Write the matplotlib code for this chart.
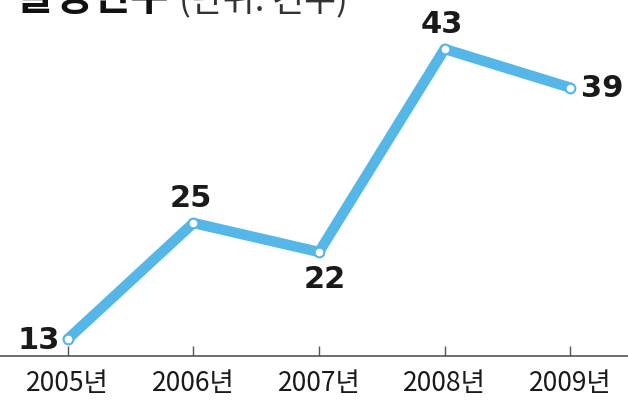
import numpy as np
import matplotlib
matplotlib.use("Agg")
import matplotlib.pyplot as plt

plt.rcParams['font.family'] = ['Noto Sans CJK KR', 'DejaVu Sans']

years = [2005, 2006, 2007, 2008, 2009]
counts = [13, 25, 22, 43, 39]
tick_labels = ["2005년", "2006년", "2007년", "2008년", "2009년"]
# where each value label sits relative to its point
label_pos = ["left", "above", "below", "above", "right"]

blue = "#55b6e8"

fig = plt.figure(figsize=(6.28, 4.10), dpi=100)
ax = fig.add_axes([0, 0, 1, 1])

ax.plot(years, counts, color=blue, lw=7.5, solid_capstyle='round', solid_joinstyle='round', zorder=2)
ax.plot(years, counts, linestyle='None', marker='o', ms=7, mfc='white', mec=blue, mew=1.5, zorder=3)

offsets = {"left": (-6, 0, 'right', 'center'),
           "right": (8, 0, 'left', 'center'),
           "above": (-2, 8, 'center', 'bottom'),
           "below": (4, -9, 'center', 'top')}
for x, y, p in zip(years, counts, label_pos):
    dx, dy, ha, va = offsets[p]
    ax.annotate(str(y), (x, y), xytext=(dx, dy), textcoords='offset points',
                ha=ha, va=va, fontsize=22, fontweight='bold', color='#1a1a1a',
                family='DejaVu Sans')

ax.set_xlim(2004.46, 2009.46)
ax.set_ylim(5.76, 48.17)

for s in ['top', 'left', 'right']:
    ax.spines[s].set_visible(False)
ax.spines['bottom'].set_position(('data', 11.24))
ax.spines['bottom'].set_color('#555555')
ax.spines['bottom'].set_linewidth(1.2)
ax.set_yticks([])
ax.set_xticks(years)
ax.set_xticklabels(tick_labels)
ax.tick_params(axis='x', direction='in', length=7, width=1, color='#555555',
               labelsize=19, pad=9, labelcolor='#1a1a1a')

# title cut off at the top of the image
fig.text(0.025, 1 - 10 / 410, "발생건수", fontsize=30, fontweight='bold',
         va='baseline', ha='left', color='#111111')
fig.text(0.285, 1 - 10 / 410, "(단위: 건수)", fontsize=25,
         va='baseline', ha='left', color='#333333')

fig.savefig("out.png", dpi=100)
